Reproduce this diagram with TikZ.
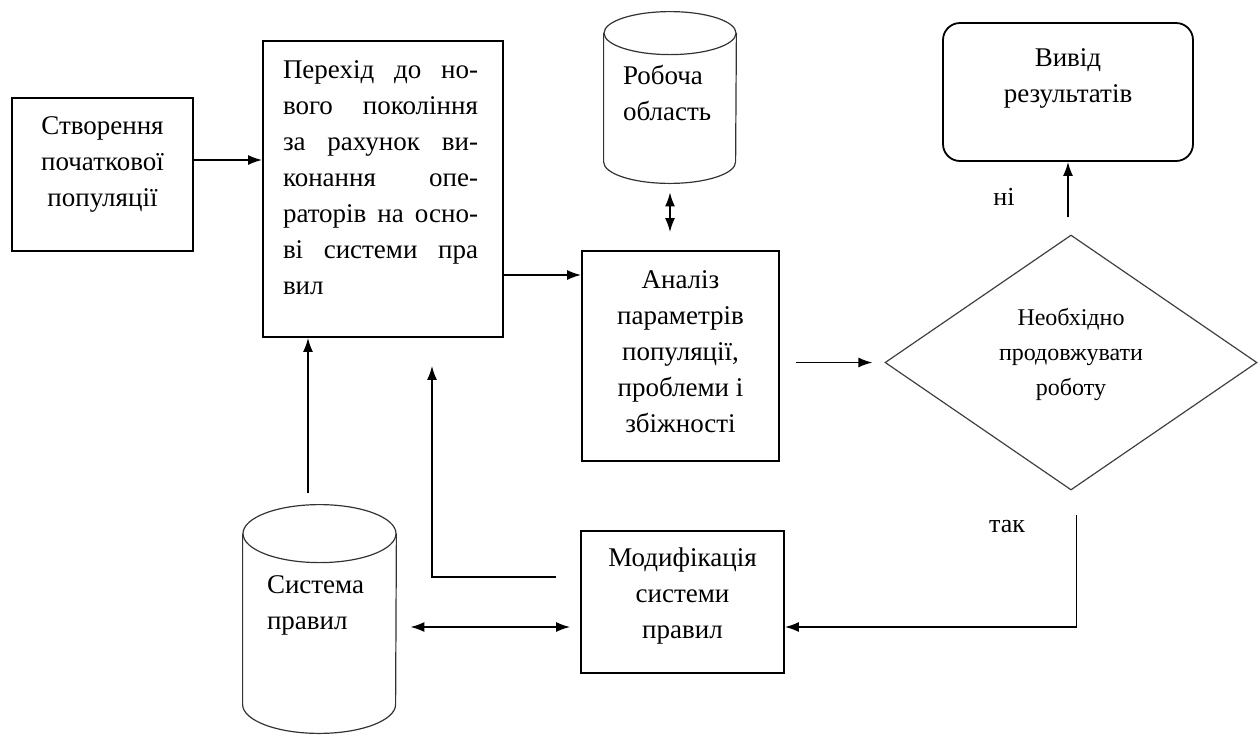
\documentclass[tikz,border=0pt]{standalone}
\usepackage{fontspec}
\setmainfont{Liberation Serif}
\usetikzlibrary{shapes.geometric,arrows.meta}

\begin{document}
\begin{tikzpicture}[x=0.5pt,y=-0.5pt,
    txt/.style n args={4}{inner sep=0pt,
        execute at begin node={\begin{minipage}[c][#2][t]{#1}#4\vspace*{#3}\strut},
        execute at end node={\end{minipage}}},
    blk/.style={draw, line width=0.9pt, font=\fontsize{13.5}{18}\selectfont},
    decision/.style={diamond, draw=black!75, line width=0.6pt, aspect=1.46,
        minimum width=186pt, minimum height=127.5pt, font=\fontsize{12}{17.5}\selectfont},
    cylbody/.style={font=\fontsize{13.5}{18}\selectfont},
    cyl/.style={draw=black!80, line width=0.6pt},
    lbl/.style={inner sep=0pt, font=\fontsize{13}{16}\selectfont},
    arr/.style={-{Latex[length=7pt,width=5pt]}, line width=0.8pt},
    darr/.style={{Latex[length=7pt,width=5pt]}-{Latex[length=7pt,width=5pt]}, line width=0.8pt}]

    \useasboundingbox (0,0) rectangle (1258,735);

    % blocks
    \node[blk, txt={90.5pt}{76.5pt}{5.4pt}{\centering}] (init) at (102.5,174.5)
        {Створення\\початкової\\популяції};
    \node[blk, txt={120pt}{148pt}{5.9pt}{\raggedright\leftskip 10pt}] (step) at (383,189)
        {\makebox[97.5pt][s]{Перехід до но-}\\
         \makebox[97.5pt][s]{вого покоління}\\
         \makebox[97.5pt][s]{за рахунок ви-}\\
         \makebox[97.5pt][s]{конання опе-}\\
         \makebox[97.5pt][s]{раторів на осно-}\\
         \makebox[97.5pt][s]{ві системи пра}\\
         вил};
    \node[blk, txt={98.5pt}{105pt}{5.9pt}{\centering}] (an) at (680.5,356)
        {Аналіз\\параметрів\\популяції,\\проблеми і\\збіжності};
    \node[blk, rounded corners=8.5pt, txt={125pt}{69pt}{8.9pt}{\centering}] (out) at (1068,92)
        {Вивід\\результатів};
    \node[decision, txt={80pt}{70pt}{4pt}{\centering}] (dec) at (1071,362.5)
        {Необхідно\\продовжувати\\роботу};
    \node[blk, txt={101.5pt}{71pt}{4.9pt}{\centering}] (mod) at (682.5,602)
        {Модифікація\\системи\\правил};

    % cylinders
    \node[cylbody, txt={66pt}{85.5pt}{23.4pt}{\raggedright\leftskip 9.5pt}] (work) at (670,97.5)
        {Робоча\\область};
    \node[cylbody, txt={76.5pt}{114pt}{31.4pt}{\raggedright\leftskip 12pt}] (rules) at (319.5,619)
        {Система\\правил};
    \foreach \c/\rx/\ry in {work/33pt/10.75pt, rules/38.25pt/14.5pt} {
        \draw[cyl] ([yshift=-\ry]\c.north) ellipse [x radius=\rx, y radius=\ry];
        \draw[cyl] ([yshift=-\ry]\c.north west) -- ([yshift=\ry]\c.south west)
            arc [start angle=180, end angle=360, x radius=\rx, y radius=\ry]
            -- ([yshift=-\ry]\c.north east);
    }

    \node[lbl] (lno) at (1004,197) {ні};
    \node[lbl] (lyes) at (1007,527) {так};
    \coordinate (ystart) at (1076.5,515);

    % connectors
    \draw[arr] (init.east |- 0,160) -- (step.west |- 0,160);
    \draw[arr] (step.east |- 0,275) -- (an.west |- 0,275);
    \draw[darr, shorten <=4.5pt, shorten >=9pt] (work.south) -- (work.south |- an.north);
    \draw[arr, shorten <=8.5pt] (out.south |- dec.north) -- (out.south);
    \draw[arr, shorten <=8pt, shorten >=6pt] (an.east |- dec.west) -- (dec.west);
    \draw[arr] (ystart) |- (mod.east |- 0,627);
    \draw[darr, shorten <=7pt, shorten >=5pt] (rules.east |- 0,627) -- (mod.west |- 0,627);
    \draw[arr, shorten <=6pt] (rules.north -| 308,0) -- (step.south -| 308,0);
    \draw[arr, shorten <=12pt, shorten >=14pt] (mod.west |- 0,577) -| (step.south -| 432,0);
\end{tikzpicture}
\end{document}
